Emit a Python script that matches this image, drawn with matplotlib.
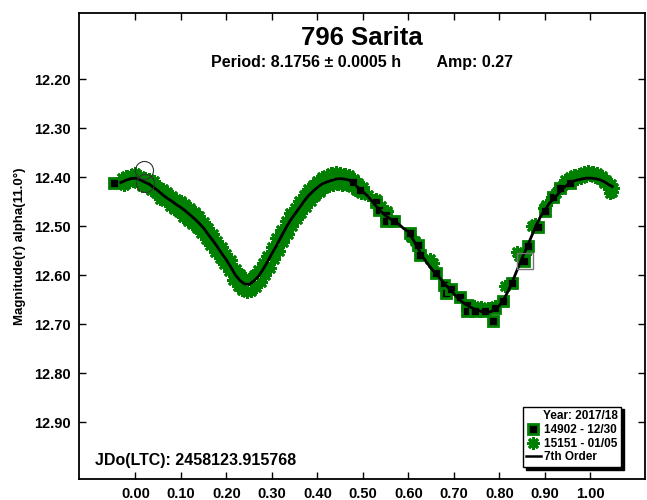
import matplotlib
matplotlib.use("Agg")
import matplotlib.pyplot as plt
from matplotlib.lines import Line2D

plt.rcParams['font.family'] = ['Liberation Sans', 'DejaVu Sans']
plt.rcParams['font.weight'] = 'bold'

title = "796 Sarita"
subtitle = "Period: 8.1756 \u00b1 0.0005 h        Amp: 0.27"
ylabel = "Magnitude(r) alpha(11.0\u00b0)"
jdo_text = "JDo(LTC): 2458123.915768"
legend_title = "Year: 2017/18"
label_a = "14902 - 12/30"
label_b = "15151 - 01/05"
label_fit = "7th Order"

xticks = [0.0, 0.1, 0.2, 0.3, 0.4, 0.5, 0.6, 0.7, 0.8, 0.9, 1.0]
yticks = [12.2, 12.3, 12.4, 12.5, 12.6, 12.7, 12.8, 12.9]

# 7th order fit
fit_phase = [-0.032, -0.02, -0.01, 0.00, 0.01, 0.02, 0.03, 0.04, 0.05, 0.06, 0.07, 0.08, 0.09,
             0.10, 0.11, 0.12, 0.13, 0.14, 0.15, 0.16, 0.17, 0.18, 0.19, 0.20, 0.21, 0.22,
             0.23, 0.24, 0.25, 0.26, 0.27, 0.28, 0.29, 0.30, 0.31, 0.32, 0.33, 0.34, 0.35,
             0.36, 0.37, 0.38, 0.39, 0.40, 0.41, 0.42, 0.43, 0.44, 0.45, 0.46, 0.47, 0.48,
             0.49, 0.50, 0.51, 0.52, 0.53, 0.54, 0.55, 0.56, 0.57, 0.58, 0.59, 0.60, 0.61,
             0.62, 0.63, 0.64, 0.65, 0.66, 0.67, 0.68, 0.69, 0.70, 0.71, 0.72, 0.73, 0.74,
             0.75, 0.76, 0.77, 0.78, 0.79, 0.80, 0.81, 0.82, 0.83, 0.84, 0.85, 0.86, 0.87,
             0.88, 0.89, 0.90, 0.91, 0.92, 0.93, 0.94, 0.95, 0.96, 0.97, 0.98, 0.99, 1.00,
             1.01, 1.02, 1.03, 1.04, 1.048]
fit_mag = [12.411, 12.406, 12.403, 12.402, 12.405, 12.410, 12.414, 12.421, 12.428, 12.436, 12.443, 12.449, 12.456,
           12.462, 12.469, 12.477, 12.485, 12.494, 12.504, 12.517, 12.529, 12.542, 12.556, 12.569, 12.584, 12.600,
           12.611, 12.618, 12.619, 12.612, 12.603, 12.589, 12.573, 12.556, 12.540, 12.522, 12.505, 12.489, 12.476,
           12.463, 12.450, 12.438, 12.429, 12.421, 12.414, 12.410, 12.407, 12.404, 12.403, 12.404, 12.406, 12.413,
           12.422, 12.430, 12.438, 12.449, 12.460, 12.470, 12.479, 12.485, 12.490, 12.497, 12.505, 12.512, 12.527,
           12.543, 12.560, 12.574, 12.586, 12.596, 12.607, 12.618, 12.628, 12.638, 12.648, 12.656, 12.662, 12.667,
           12.671, 12.674, 12.676, 12.675, 12.670, 12.662, 12.649, 12.631, 12.610, 12.587, 12.565, 12.544, 12.522,
           12.500, 12.481, 12.467, 12.453, 12.444, 12.433, 12.423, 12.415, 12.409, 12.406, 12.404, 12.402, 12.402,
           12.403, 12.405, 12.409, 12.415, 12.419]

# Session 14902 (squares)
sq_phase = [-0.047, 0.479, 0.494, 0.528, 0.535, 0.550, 0.550, 0.568, 0.603, 0.621, 0.625, 0.660,
            0.679, 0.682, 0.694, 0.713, 0.729, 0.729, 0.747, 0.769, 0.786, 0.791, 0.807, 0.828,
            0.853, 0.863, 0.885, 0.900, 0.918, 0.934, 0.955]
sq_mag = [12.412, 12.409, 12.426, 12.450, 12.467, 12.477, 12.490, 12.489, 12.513, 12.538, 12.559, 12.595,
          12.620, 12.636, 12.629, 12.644, 12.661, 12.674, 12.673, 12.674, 12.693, 12.667, 12.652, 12.616,
          12.572, 12.540, 12.501, 12.469, 12.440, 12.422, 12.412]

# Session 15151 (asterisks)
st_phase = [-0.030, -0.025, -0.020, -0.015, -0.010, -0.005, 0.000, 0.005, 0.010, 0.015, 0.020, 0.025,
            0.030, 0.035, 0.040, 0.045, 0.050, 0.055, 0.060, 0.065, 0.070, 0.075, 0.080, 0.085,
            0.090, 0.095, 0.100, 0.105, 0.110, 0.115, 0.120, 0.125, 0.130, 0.135, 0.140, 0.145,
            0.150, 0.155, 0.160, 0.165, 0.170, 0.175, 0.180, 0.185, 0.190, 0.195, 0.200, 0.205,
            0.210, 0.215, 0.220, 0.225, 0.230, 0.235, 0.240, 0.245, 0.250, 0.255, 0.260, 0.265,
            0.270, 0.275, 0.280, 0.285, 0.290, 0.295, 0.300, 0.305, 0.310, 0.315, 0.320, 0.325,
            0.330, 0.335, 0.340, 0.345, 0.350, 0.355, 0.360, 0.365, 0.370, 0.375, 0.380, 0.385,
            0.390, 0.395, 0.400, 0.405, 0.410, 0.415, 0.420, 0.425, 0.430, 0.435, 0.440, 0.445,
            0.450, 0.455, 0.460, 0.465, 0.470, 0.475, 0.480, 0.485, 0.490, 0.495, 0.500,
            0.512, 0.528, 0.540, 0.553, 0.605, 0.615, 0.648, 0.655, 0.745, 0.760, 0.775, 0.790,
            0.812, 0.838, 0.842, 0.856, 0.872, 0.878, 0.897, 0.903,
            0.915, 0.925, 0.930, 0.940, 0.945, 0.950, 0.955, 0.960, 0.965, 0.970, 0.975, 0.980,
            0.985, 0.990, 0.995, 1.000, 1.005, 1.010, 1.015, 1.020, 1.025, 1.030, 1.035, 1.040,
            1.042, 1.045, 1.048, 1.050]
st_mag = [12.402, 12.415, 12.398, 12.410, 12.395, 12.408, 12.392, 12.412, 12.397, 12.418, 12.401, 12.420,
          12.404, 12.427, 12.408, 12.433, 12.420, 12.445, 12.425, 12.449, 12.430, 12.458, 12.438, 12.466,
          12.444, 12.472, 12.448, 12.481, 12.455, 12.490, 12.463, 12.496, 12.472, 12.503, 12.480, 12.514,
          12.492, 12.527, 12.503, 12.539, 12.515, 12.552, 12.530, 12.566, 12.543, 12.578, 12.557, 12.592,
          12.570, 12.610, 12.588, 12.622, 12.598, 12.630, 12.605, 12.634, 12.608, 12.632, 12.600, 12.625,
          12.590, 12.614, 12.576, 12.600, 12.560, 12.585, 12.542, 12.568, 12.525, 12.550, 12.508, 12.532,
          12.490, 12.516, 12.474, 12.500, 12.462, 12.486, 12.449, 12.474, 12.437, 12.460, 12.425, 12.448,
          12.417, 12.438, 12.408, 12.430, 12.400, 12.423, 12.396, 12.418, 12.392, 12.416, 12.390, 12.414,
          12.391, 12.415, 12.393, 12.417, 12.396, 12.420, 12.403, 12.426, 12.412, 12.433, 12.420,
          12.437, 12.445, 12.458, 12.470, 12.522, 12.530, 12.568, 12.575, 12.662, 12.665, 12.668, 12.662,
          12.622, 12.552, 12.560, 12.556, 12.500, 12.495, 12.462, 12.457,
          12.440, 12.432, 12.422, 12.415, 12.405, 12.411, 12.400, 12.406, 12.396, 12.404, 12.393, 12.401,
          12.390, 12.398, 12.388, 12.396, 12.390, 12.400, 12.392, 12.404, 12.398, 12.412, 12.405, 12.425,
          12.433, 12.414, 12.430, 12.422]

# highlighted points
circ_phase = [0.019, 0.021]
circ_mag = [12.385, 12.412]
box_phase = [0.857]
box_mag = [12.572]

green = "#008000"

fig = plt.figure(figsize=(6.47, 5.0), dpi=100)
ax = fig.add_axes([79 / 647, 21 / 500, 566 / 647, 466 / 500])

ax.plot(st_phase, st_mag, linestyle='none', marker=(8, 2, 0), markersize=9,
        markeredgewidth=2.0, color=green, zorder=2)
ax.plot(sq_phase, sq_mag, linestyle='none', marker='s', markersize=7.5,
        markerfacecolor='black', markeredgecolor=green, markeredgewidth=2.0, zorder=3)
ax.plot(fit_phase, fit_mag, color='black', linewidth=2, zorder=4)
ax.plot(circ_phase, circ_mag, linestyle='none', marker='o', markersize=13,
        markerfacecolor='none', markeredgecolor='#333333', markeredgewidth=0.8, zorder=5)
ax.plot(box_phase, box_mag, linestyle='none', marker='s', markersize=11,
        markerfacecolor='none', markeredgecolor='#777777', markeredgewidth=1.0, zorder=5)

ax.set_xlim(-0.124, 1.12)
ax.set_ylim(13.016, 12.065)
ax.set_xticks(xticks)
ax.set_xticklabels([f"{v:.2f}" for v in xticks])
ax.set_yticks(yticks)
ax.set_yticklabels([f"{v:.2f}" for v in yticks])
ax.tick_params(direction='in', length=5, width=1, top=True, right=True,
               labelsize=10.5, pad=6)
for lbl in ax.get_xticklabels() + ax.get_yticklabels():
    lbl.set_fontweight('bold')
for s in ax.spines.values():
    s.set_linewidth(1.3)

ax.set_ylabel(ylabel, fontsize=9.5, fontweight='bold', labelpad=6)

cx = (79 + 645) / 2 / 647
fig.text(cx, 1 - 38 / 500, title, ha='center', va='center', fontsize=18.5, fontweight='bold')
fig.text(cx, 1 - 63 / 500, subtitle, ha='center', va='center', fontsize=11.5, fontweight='bold')
fig.text(95 / 647, 1 - 461 / 500, jdo_text, ha='left', va='center', fontsize=11.5, fontweight='bold')

handles = [
    Line2D([], [], linestyle='none', marker='s', markersize=7, markerfacecolor='black',
           markeredgecolor=green, markeredgewidth=2),
    Line2D([], [], linestyle='none', marker=(8, 2, 0), markersize=9, markeredgewidth=2, color=green),
    Line2D([], [], color='black', linewidth=1.8),
]
leg = ax.legend(handles, [label_a, label_b, label_fit], title=legend_title,
                loc='lower right', bbox_to_anchor=(621 / 647, 1 - 467 / 500),
                bbox_transform=fig.transFigure, fancybox=False, framealpha=1,
                edgecolor='black', shadow={'color': 'black', 'alpha': 1, 'ox': 2, 'oy': -2},
                prop={'weight': 'bold', 'size': 8.5}, title_fontproperties={'weight': 'bold', 'size': 8.5},
                handlelength=1.2, handletextpad=0.3, borderpad=0.3, labelspacing=0.15,
                borderaxespad=0, alignment='right')
leg.get_frame().set_linewidth(1.0)

fig.savefig("out.png", dpi=100)
